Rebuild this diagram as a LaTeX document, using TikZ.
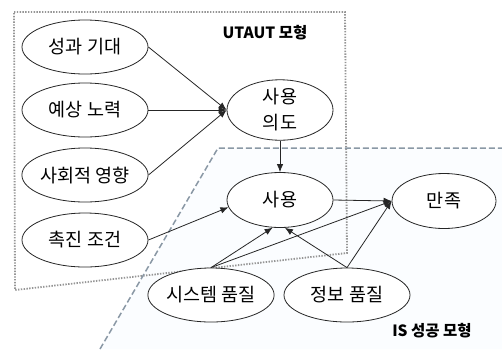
\documentclass[tikz,border=0pt]{standalone}
\usepackage{fontspec}
\setmainfont{Noto Sans CJK KR}
\usetikzlibrary{arrows.meta,shapes.geometric}
\definecolor{boxgray}{RGB}{150,150,150}
\definecolor{isgray}{RGB}{138,152,165}
\definecolor{istint}{RGB}{251,253,255}
\tikzset{
  construct/.style={ellipse,draw=black!85,line width=0.8pt,fill=white,inner sep=0pt,
    minimum width=126pt,minimum height=54pt,font=\fontsize{18.5}{21}\selectfont,align=center},
  midconstruct/.style={construct,minimum width=106pt,minimum height=55pt},
  link/.style={line width=0.8pt,draw=black!85,-{Latex[length=8pt,width=6.5pt]}},
  modellabel/.style={font=\fontsize{15.5}{18}\selectfont\bfseries,inner sep=0pt},
  utautline/.style={draw=boxgray,line width=1.8pt,dash pattern=on 1.4pt off 1.4pt},
  isline/.style={draw=isgray,line width=1.5pt,dash pattern=on 6pt off 3pt}
}
\begin{document}
\begin{tikzpicture}[x=1pt,y=-1pt]
\useasboundingbox (0,0) rectangle (502,349);
% IS region tint and boundary
\fill[istint] (100,349) -- (218,148) -- (502,148) -- (502,349) -- cycle;
\draw[utautline] (14,12) -- (345,12) -- (347,253) -- (15,290) -- cycle;
\draw[isline] (100,349) -- (218,148) -- (502,148);
% constructs
\node[construct] (perf) at (85,47) {성과 기대};
\node[construct] (effort) at (85,110) {예상 노력};
\node[construct] (social) at (85,175) {사회적 영향};
\node[construct] (facil) at (85,240) {촉진 조건};
\node[midconstruct,font=\fontsize{18.5}{26}\selectfont] (intent) at (280,110) {사용\\의도};
\node[midconstruct] (use) at (280,200) {사용};
\node[midconstruct,minimum width=104pt] (satis) at (444,201) {만족};
\node[construct] (sysq) at (211,295) {시스템 품질};
\node[construct] (infoq) at (347,295) {정보 품질};
\node[modellabel] (utaut) at (265,33) {UTAUT 모형};
\node[modellabel] (ismodel) at (432,331) {IS 성공 모형};
% connectors
\draw[link] (perf.east) -- (intent.west);
\draw[link] (effort.east) -- (intent.west);
\draw[link] (social.east) -- (intent.west);
\draw[link] (facil.east) -- (use.188);
\draw[link] (intent.south) -- (use.north);
\draw[link] (use.east) -- (satis.west);
\draw[link] (sysq.north) -- (use.255);
\draw[link] (sysq.north) -- (satis.west);
\draw[link] (infoq.north) -- (use.280);
\draw[link] (infoq.north) -- (satis.west);
\end{tikzpicture}
\end{document}
